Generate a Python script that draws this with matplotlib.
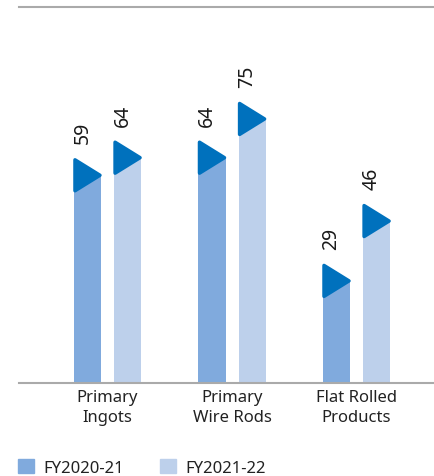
import numpy as np
import matplotlib.pyplot as plt
from matplotlib.patches import Patch, Polygon

plt.rcParams['font.family'] = ['Noto Sans', 'DejaVu Sans']

categories = ['Primary\nIngots', 'Primary\nWire Rods', 'Flat Rolled\nProducts']
series_names = ['FY2020-21', 'FY2021-22']
fy21 = [59, 64, 29]
fy22 = [64, 75, 46]

c_dark = '#80aadd'
c_light = '#bdd0eb'
c_arrow = '#0071bd'

fig = plt.figure(figsize=(4.35, 4.77), dpi=100)
ax = fig.add_axes([19 / 435, 1 - 384 / 477, 416 / 435, 376 / 477])

x = np.arange(len(categories))
width = 0.217
off = 0.161
tri_h = 4.4

for vals, dx, col in [(fy21, -off, c_dark), (fy22, off, c_light)]:
    bars = ax.bar(x + dx, vals, width, color=col, zorder=2)
    for b, v in zip(bars, vals):
        x0 = b.get_x() + 0.008
        x1 = b.get_x() + b.get_width() - 0.008
        tri = Polygon([[x0, v + tri_h], [x1, v], [x0, v - tri_h]], closed=True,
                      facecolor=c_arrow, edgecolor=c_arrow, linewidth=2.5,
                      joinstyle='round', zorder=3)
        ax.add_patch(tri)
        ax.annotate(str(v), (b.get_x() + b.get_width() / 2 - 0.04, v + tri_h),
                    xytext=(0, 12), textcoords='offset points', rotation=90,
                    ha='center', va='bottom', fontsize=14, color='#1a1a1a')

ax.set_xlim(-0.711, 2.63)
ax.set_ylim(0, 106.8)
ax.set_xticks(x)
ax.set_xticklabels(categories, fontsize=12, color='#222222', linespacing=1.35)
ax.tick_params(axis='x', length=0, pad=4)
ax.set_yticks([])
for s in ['left', 'right']:
    ax.spines[s].set_visible(False)
for s in ['top', 'bottom']:
    ax.spines[s].set_color('#aaaaaa')
    ax.spines[s].set_linewidth(1.5)

handles = [Patch(color=c_dark), Patch(color=c_light)]
fig.legend(handles, series_names, loc='lower left', bbox_to_anchor=(18 / 435, 0.0),
           ncol=2, frameon=False, fontsize=12, handlelength=0.95, handleheight=0.95,
           handletextpad=0.55, columnspacing=2.2, borderpad=0.0, borderaxespad=0.0,
           labelcolor='#222222')

fig.savefig('out.png', dpi=100)
